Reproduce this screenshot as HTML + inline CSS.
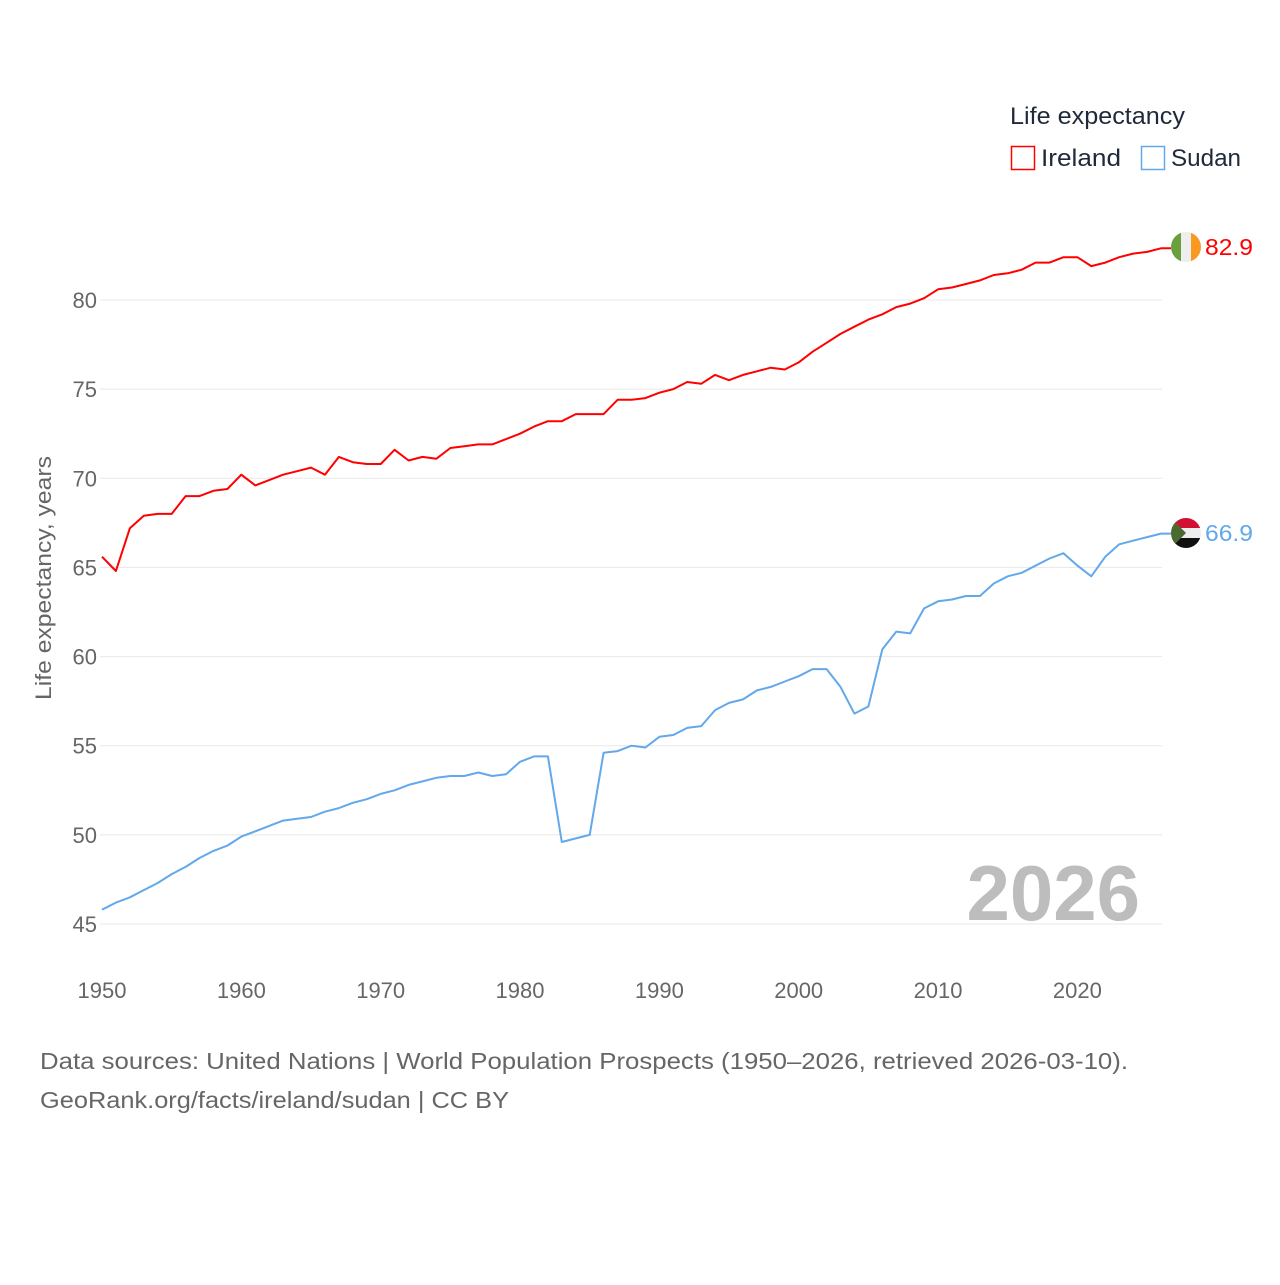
<!DOCTYPE html>
<html><head><meta charset="utf-8"><style>
html,body{margin:0;padding:0;background:#fff;}
body{width:1280px;height:1280px;overflow:hidden;font-family:"Liberation Sans",sans-serif;}
</style></head><body>
<svg id="chart" width="1280" height="1280" xmlns="http://www.w3.org/2000/svg" font-family="Liberation Sans, sans-serif">
<defs>
<clipPath id="c1"><circle cx="1186" cy="247" r="15"/></clipPath>
<clipPath id="c2"><circle cx="1186" cy="533" r="15"/></clipPath>
</defs>
<g id="grid"></g>
<g id="yt"></g>
<g id="xt"></g>
<text transform="translate(51,578) rotate(-90)" text-anchor="middle" font-size="22" fill="#666" textLength="244" lengthAdjust="spacingAndGlyphs">Life expectancy, years</text>
<text x="1140" y="920" text-anchor="end" font-size="78" font-weight="bold" fill="#bdbdbd">2026</text>
<g id="series"></g>
<g clip-path="url(#c1)">
<rect x="1171" y="232" width="10" height="30" fill="#6a9f3d"/><rect x="1181" y="232" width="10" height="30" fill="#eeeeee"/><rect x="1191" y="232" width="10" height="30" fill="#fb9822"/></g>
<g clip-path="url(#c2)">
<rect x="1171" y="518" width="30" height="10" fill="#d21034"/><rect x="1171" y="528" width="30" height="10" fill="#eeeeee"/><rect x="1171" y="538" width="30" height="10" fill="#111"/><polygon points="1171,518 1186,533 1171,548" fill="#4a6a30"/></g>
<text x="1205" y="255" font-size="23" fill="#ff0000" textLength="48" lengthAdjust="spacingAndGlyphs">82.9</text>
<text x="1205" y="541" font-size="23" fill="#62a8ea" textLength="48" lengthAdjust="spacingAndGlyphs">66.9</text>
<text x="1010" y="124" font-size="24" fill="#1e2a3a" textLength="175" lengthAdjust="spacingAndGlyphs">Life expectancy</text>
<rect x="1011.5" y="146.5" width="23" height="23" fill="none" stroke="#ff0000" stroke-width="1.5"/>
<text x="1041" y="166" font-size="24" fill="#1e2a3a" textLength="80" lengthAdjust="spacingAndGlyphs">Ireland</text>
<rect x="1141.5" y="146.5" width="23" height="23" fill="none" stroke="#62a8ea" stroke-width="1.5"/>
<text x="1171" y="166" font-size="24" fill="#1e2a3a" textLength="70" lengthAdjust="spacingAndGlyphs">Sudan</text>
<text x="40" y="1069" font-size="23" fill="#666" textLength="1088" lengthAdjust="spacingAndGlyphs">Data sources: United Nations | World Population Prospects (1950–2026, retrieved 2026-03-10).</text>
<text x="40" y="1108" font-size="23" fill="#666" textLength="469" lengthAdjust="spacingAndGlyphs">GeoRank.org/facts/ireland/sudan | CC BY</text>
</svg>
<script>
const years = [];
for (let y = 1950; y <= 2026; y++) years.push(y);
const ireland = [65.6,64.8,67.2,67.9,68.0,68.0,69.0,69.0,69.3,69.4,70.2,69.6,69.9,70.2,70.4,70.6,70.2,71.2,70.9,70.8,70.8,71.6,71.0,71.2,71.1,71.7,71.8,71.9,71.9,72.2,72.5,72.9,73.2,73.2,73.6,73.6,73.6,74.4,74.4,74.5,74.8,75.0,75.4,75.3,75.8,75.5,75.8,76.0,76.2,76.1,76.5,77.1,77.6,78.1,78.5,78.9,79.2,79.6,79.8,80.1,80.6,80.7,80.9,81.1,81.4,81.5,81.7,82.1,82.1,82.4,82.4,81.9,82.1,82.4,82.6,82.7,82.9];
const sudan = [45.8,46.2,46.5,46.9,47.3,47.8,48.2,48.7,49.1,49.4,49.9,50.2,50.5,50.8,50.9,51.0,51.3,51.5,51.8,52.0,52.3,52.5,52.8,53.0,53.2,53.3,53.3,53.5,53.3,53.4,54.1,54.4,54.4,49.6,49.8,50.0,54.6,54.7,55.0,54.9,55.5,55.6,56.0,56.1,57.0,57.4,57.6,58.1,58.3,58.6,58.9,59.3,59.3,58.3,56.8,57.2,60.4,61.4,61.3,62.7,63.1,63.2,63.4,63.4,64.1,64.5,64.7,65.1,65.5,65.8,65.1,64.5,65.6,66.3,66.5,66.7,66.9];
const yTicks = [45,50,55,60,65,70,75,80];
const xTicks = [1950,1960,1970,1980,1990,2000,2010,2020];
const NS = "http://www.w3.org/2000/svg";
const xS = v => 102 + (v - 1950) * (1161 - 102) / 76;
const yS = v => 300 + (80 - v) * (924 - 300) / 35;
function mk(tag, attrs, parent) { const e = document.createElementNS(NS, tag); for (const k in attrs) e.setAttribute(k, attrs[k]); parent.appendChild(e); return e; }
const grid = document.getElementById('grid'), yt = document.getElementById('yt'), xt = document.getElementById('xt'), ser = document.getElementById('series');
yTicks.forEach(t => {
  const l = mk('line', {x1: 100, x2: 1162, y1: yS(t), y2: yS(t), stroke: '#e8e8e8', 'stroke-width': 1}, grid);
  
  
  const tx = mk('text', {x: 97, y: yS(t) + 8, 'text-anchor': 'end', 'font-size': 22, fill: '#666'}, yt);
  tx.textContent = t;
  
  
});
xTicks.forEach(t => {
  const tx = mk('text', {x: xS(t), y: 998, 'text-anchor': 'middle', 'font-size': 22, fill: '#666'}, xt);
  tx.textContent = t;
  
  
});
function line(vals, color, name) {
  const d = vals.map((v, i) => (i ? 'L' : 'M') + xS(years[i]).toFixed(1) + ',' + yS(v).toFixed(1)).join('') + 'L1171,' + yS(vals[vals.length - 1]).toFixed(1);
  const p = mk('path', {d: d, fill: 'none', stroke: color, 'stroke-width': 2, 'stroke-linejoin': 'round'}, ser);
  
  
}
line(ireland, '#ff0000', 'ireland-line');
line(sudan, '#62a8ea', 'sudan-line');
</script>
</body></html>
